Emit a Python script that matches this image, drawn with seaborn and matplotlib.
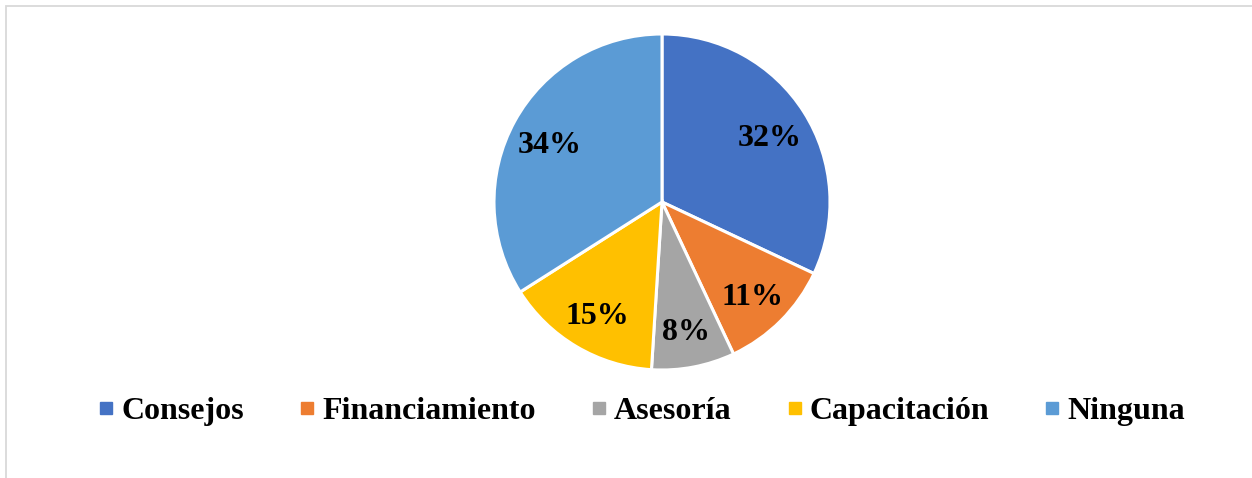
import matplotlib
matplotlib.use("Agg")
import matplotlib.pyplot as plt
from matplotlib.patches import Rectangle
from matplotlib.lines import Line2D
from matplotlib.transforms import ScaledTranslation
import seaborn as sns

# data
categories = ["Consejos", "Financiamiento", "Asesoría", "Capacitación", "Ninguna"]
shares = [32, 11, 8, 15, 34]
colors = ["#4472C4", "#ED7D31", "#A5A5A5", "#FFC000", "#5B9BD5"]

sns.set_theme(style="white")
plt.rcParams["font.family"] = ["Liberation Serif", "DejaVu Serif"]
plt.rcParams["font.weight"] = "bold"
plt.rcParams["text.color"] = "black"

W, H = 1252, 478
fig = plt.figure(figsize=(W / 100, H / 100), dpi=100)

# light frame (only top and left edges visible in the reference)
fig.patches.append(Rectangle((5.5 / W, -0.2), 1.3, (H - 5.5) / H + 0.2,
                             transform=fig.transFigure, fill=False,
                             edgecolor="#d9d9d9", linewidth=1.3))

cx, cy, r = 662, 202, 168
ax = fig.add_axes([(cx - r) / W, (H - cy - r) / H, 2 * r / W, 2 * r / H])
wedges, texts, autotexts = ax.pie(
    shares, colors=colors, startangle=90, counterclock=False,
    autopct="%1.0f%%", pctdistance=0.76,
    wedgeprops=dict(edgecolor="white", linewidth=2.2),
    textprops=dict(fontsize=23, fontweight="bold", color="black"))
# nudge labels down a little, like the reference
for t in autotexts:
    t.set_transform(t.get_transform() + ScaledTranslation(0, -5 / 100, fig.dpi_scale_trans))
ax.set_xlim(-1, 1)
ax.set_ylim(-1, 1)
ax.set_aspect("equal")
ax.axis("off")

handles = [Line2D([], [], marker="s", linestyle="none", markersize=8,
                  markerfacecolor=c, markeredgecolor=c) for c in colors]
leg = fig.legend(handles, categories, loc="center", bbox_to_anchor=(642 / W, (H - 411) / H),
                 ncol=5, frameon=False, prop=dict(size=23, weight="bold"),
                 handlelength=0.45, handletextpad=0.25, columnspacing=1.75)
for t in leg.get_texts():
    t.set_color("black")

fig.savefig("out.png", dpi=100)
